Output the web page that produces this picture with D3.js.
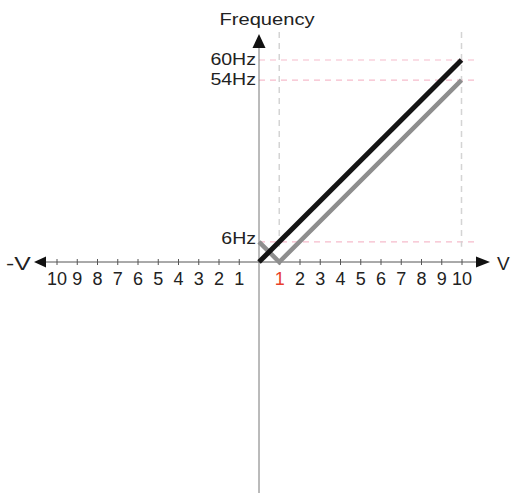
<!DOCTYPE html>
<html>
<head>
<meta charset="utf-8">
<script src="https://cdn.jsdelivr.net/npm/d3@7"></script>
<style>
  body { margin: 0; background: #fff; }
  text { font-family: "Liberation Sans", Arial, sans-serif; fill: #222; }
</style>
</head>
<body>
<script>
"use strict";

// volts on the horizontal axis, both sides
const voltTicks = [-10, -9, -8, -7, -6, -5, -4, -3, -2, -1, 1, 2, 3, 4, 5, 6, 7, 8, 9, 10]
// frequency marks (Hz)
const hzMarks = [6, 54, 60]
const hzLabels = ["6Hz", "54Hz", "60Hz"]
// guide columns (V)
const voltGuides = [1, 10]

// black line: 0V -> 0Hz, 10V -> 60Hz
const blackV = [0, 10]
const blackHz = [0, 60]
// gray line: 0V -> 6Hz, 1V -> 0Hz, 10V -> 54Hz
const grayV = [0, 1, 10]
const grayHz = [6, 0, 54]

const W = 519, H = 493

const svg = d3.select("body").append("svg")
    .attr("width", W)
    .attr("height", H)

const x = d3.scaleLinear().domain([-10, 10]).range([56.5, 461.5])
const y = d3.scaleLinear().domain([0, 60]).range([262, 60])

const x0 = x(0), y0 = y(0)

// stretch text a bit wide, like the original artwork
function stretch(sel, k) {
    sel.each(function() {
        const len = this.getComputedTextLength()
        d3.select(this).attr("textLength", len * k).attr("lengthAdjust", "spacingAndGlyphs")
    })
}

// dashed guides
svg.append("g").selectAll("line")
    .data(hzMarks)
    .enter().append("line")
        .attr("x1", x0).attr("x2", 477)
        .attr("y1", d => y(d)).attr("y2", d => y(d))
        .attr("stroke", "#f6bccb")
        .attr("stroke-width", 1.2)
        .attr("stroke-dasharray", "6,5")

svg.append("g").selectAll("line")
    .data(voltGuides)
    .enter().append("line")
        .attr("x1", d => x(d)).attr("x2", d => x(d))
        .attr("y1", 32).attr("y2", y(6) + 5)
        .attr("stroke", "#d4d4d4")
        .attr("stroke-width", 1.5)
        .attr("stroke-dasharray", "6,5")

// axes
svg.append("line")
    .attr("x1", 40).attr("x2", 480)
    .attr("y1", y0).attr("y2", y0)
    .attr("stroke", "#555").attr("stroke-width", 1)

svg.append("line")
    .attr("x1", x0).attr("x2", x0)
    .attr("y1", 45).attr("y2", H)
    .attr("stroke", "#777").attr("stroke-width", 1)

// arrow heads
svg.append("path")
    .attr("d", `M${x0},34 L${x0 - 6.5},48 L${x0 + 6.5},48 Z`)
    .attr("fill", "#111")
svg.append("path")
    .attr("d", `M490,${y0} L476,${y0 - 5.5} L476,${y0 + 5.5} Z`)
    .attr("fill", "#111")
svg.append("path")
    .attr("d", `M34,${y0} L46,${y0 - 5.5} L46,${y0 + 5.5} Z`)
    .attr("fill", "#111")

// ticks and labels
const xAxis = d3.axisBottom(x)
    .tickValues(voltTicks)
    .tickSize(3)
    .tickFormat(d => Math.abs(d))

const gx = svg.append("g")
    .attr("transform", `translate(0,${y0})`)
    .call(xAxis)
gx.select(".domain").remove()
gx.selectAll(".tick line").attr("y1", -3).attr("stroke", "#555")
gx.selectAll(".tick text")
    .attr("y", 10)
    .attr("font-size", 18)
    .attr("font-family", "Liberation Sans, Arial, sans-serif")
    .style("fill", d => d === 1 ? "#e8402c" : "#222")

// Hz labels
svg.append("g").selectAll("text")
    .data(hzMarks)
    .enter().append("text")
        .attr("x", x0 - 3)
        .attr("y", (d, i) => y(d) + (i === 0 ? 2 : 5))
        .attr("text-anchor", "end")
        .attr("font-size", 16)
        .text((d, i) => hzLabels[i])
        .call(stretch, 1.22)

// axis names
svg.append("text")
    .attr("x", 267).attr("y", 25)
    .attr("text-anchor", "middle")
    .attr("font-size", 16.5)
    .text("Frequency")
    .call(stretch, 1.22)

svg.append("text")
    .attr("x", 6).attr("y", y0 + 8)
    .attr("font-size", 19)
    .text("-V")
    .call(stretch, 1.3)

svg.append("text")
    .attr("x", 497).attr("y", y0 + 8)
    .attr("font-size", 19)
    .text("V")

// the two lines
const line = d3.line().x(d => x(d[0])).y(d => y(d[1]))

svg.append("path")
    .datum(grayV.map((v, i) => [v, grayHz[i]]))
    .attr("d", line)
    .attr("fill", "none")
    .attr("stroke", "#8e8e8e")
    .attr("stroke-width", 4.5)

svg.append("path")
    .datum(blackV.map((v, i) => [v, blackHz[i]]))
    .attr("d", line)
    .attr("fill", "none")
    .attr("stroke", "#141414")
    .attr("stroke-width", 5)
</script>
</body>
</html>
